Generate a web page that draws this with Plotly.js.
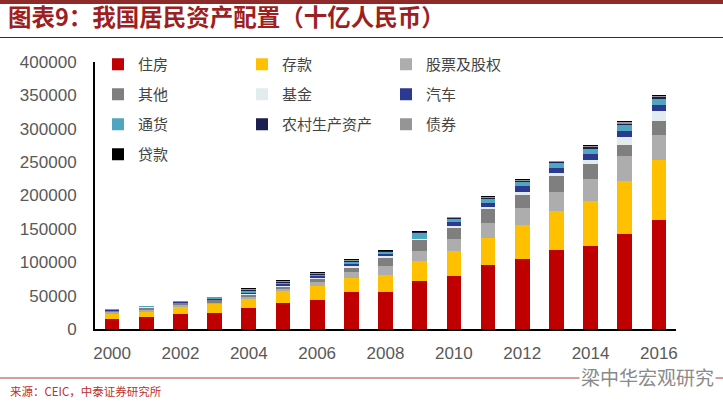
<!DOCTYPE html>
<html><head><meta charset="utf-8">
<script src="https://cdn.plot.ly/plotly-3.0.1.min.js"></script>
<style>html,body{margin:0;padding:0;background:#fff;}#chart{width:723px;height:405px;}</style>
</head><body><div id="chart"></div>
<script>
// 单位：十亿人民币
const years = [2000,2001,2002,2003,2004,2005,2006,2007,2008,2009,2010,2011,2012,2013,2014,2015,2016];
const housing  = [15000,17500,22500,24500,31500,39500,44000,56000,56000,71500,80000,96000,105500,118500,124500,142500,163000];
const deposits = [7000,8500,10500,12500,13000,17500,20000,20000,25000,30000,37500,40000,50500,58500,67000,78500,90000];
const stocks   = [3000,3000,2500,2500,3000,3000,6000,9000,14000,16000,17500,23000,25000,29000,33500,37500,38000];
const other    = [2500,3000,3500,4000,3500,3500,5500,7000,12000,15500,16000,21000,20500,22500,22500,17500,21000];
const funds    = [200,300,300,500,1000,1000,1500,3000,2000,1500,3000,3500,4500,5000,6000,11000,15000];
const cars     = [300,400,500,1500,2500,2500,2500,3000,3500,1000,6500,6000,8000,7500,9000,10000,9000];
const cash     = [1500,1500,1700,1800,2000,2000,2000,2500,2500,8000,5000,6000,6000,7500,7500,8500,9000];
const rural    = [300,300,300,700,2500,2000,1500,2000,1500,1500,1000,1500,2000,1500,2500,2000,2000];
const bonds    = [200,0,200,300,1500,1500,1000,1500,1000,1000,1000,1500,1500,1000,2000,2000,2000];
const loans    = [0,0,0,200,1000,1000,1000,1500,1000,500,1000,1500,1500,1000,1500,1500,1000];

const seriesNames = ['住房','存款','股票及股权','其他','基金','汽车','通货','农村生产资产','债券','贷款'];
const seriesData = [housing,deposits,stocks,other,funds,cars,cash,rural,bonds,loans];
const seriesColors = ['#C00000','#FFC000','#ADADAD','#7F7F7F','#E2EBEE','#2B3990','#4FA6BE','#1B1E4F','#959595','#000000'];
const seriesLegend = ['legend','legend2','legend3','legend','legend2','legend3','legend','legend2','legend3','legend'];

const traces = seriesNames.map((n,i)=>({
  type:'bar', name:n, x:years, y:seriesData[i],
  marker:{color:seriesColors[i], line:{width:0}},
  legend:seriesLegend[i], legendgroup:'g'+i, hoverinfo:'skip'
}));

const W=581, H=267, L=95, T=62;
const px = v => (v - L)/W;
const py = v => (T + H - v)/H;

const legendBase = {
  orientation:'v', traceorder:'grouped', tracegroupgap:7.5,
  bgcolor:'rgba(0,0,0,0)', borderwidth:0,
  font:{family:'Noto Sans CJK SC', size:15, color:'#444'},
  yanchor:'top', y:py(48), xanchor:'left'
};

const layout = {
  width:723, height:405,
  margin:{l:L, r:47, t:T, b:76},
  paper_bgcolor:'#fff', plot_bgcolor:'#fff',
  barmode:'stack', bargap:0.57,
  showlegend:true,
  legend:Object.assign({}, legendBase, {x:px(98)}),
  legend2:Object.assign({}, legendBase, {x:px(242)}),
  legend3:Object.assign({}, legendBase, {x:px(386)}),
  title:{text:'图表9：我国居民资产配置（十亿人民币）', x:0.011, xref:'container', xanchor:'left',
         y:1-18/405, yref:'container', yanchor:'middle',
         font:{family:'Noto Sans CJK SC', size:23.5, color:'#9E1F22', weight:'bold'}},
  xaxis:{range:[1999.5,2016.5], tickmode:'linear', tick0:2000, dtick:2,
         showgrid:false, zeroline:false, showline:true, linecolor:'#000', linewidth:2,
         ticks:'', ticklabelstandoff:8,
         tickfont:{family:'Liberation Sans, Arial', size:17, color:'#595959'}},
  yaxis:{range:[0,400000], tickmode:'linear', tick0:0, dtick:50000, tickformat:'d',
         showgrid:false, zeroline:false, showline:true, linecolor:'#000', linewidth:2,
         ticks:'', ticklabelstandoff:13,
         tickfont:{family:'Liberation Sans, Arial', size:17, color:'#595959'}},
  shapes:[
    {type:'line', xref:'paper', yref:'paper', x0:px(0), x1:px(723), y0:py(2), y1:py(2), line:{color:'#8E2A2A', width:4}},
    {type:'line', xref:'paper', yref:'paper', x0:px(0), x1:px(723), y0:py(37.5), y1:py(37.5), line:{color:'#5A2020', width:1}},
    {type:'line', xref:'paper', yref:'paper', x0:px(0), x1:px(723), y0:py(378), y1:py(378), line:{color:'#B03A3A', width:1}}
  ],
  annotations:[
    {text:'来源：CEIC，中泰证券研究所', xref:'paper', yref:'paper', x:px(8), y:py(391), xanchor:'left', yanchor:'middle',
     showarrow:false, font:{family:'Noto Sans CJK SC', size:11.5, color:'#C0302A'}},
    {text:'梁中华宏观研究', xref:'paper', yref:'paper', x:px(716), y:py(376), xanchor:'right', yanchor:'middle',
     showarrow:false, bgcolor:'#fff', font:{family:'Noto Sans CJK SC', size:19, color:'#8A8A8A'}}
  ]
};

Plotly.newPlot('chart', traces, layout, {displayModeBar:false, staticPlot:true});
</script>
</body></html>
